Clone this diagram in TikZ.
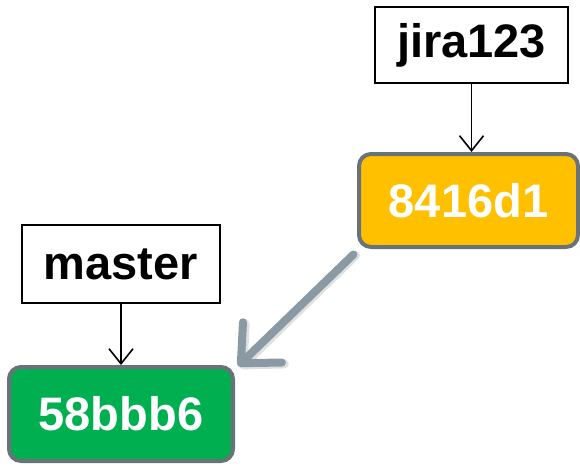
\documentclass[tikz,border=0pt]{standalone}
\usepackage{fontspec}
\setmainfont{Liberation Sans}
\usetikzlibrary{arrows.meta}
\definecolor{commitedge}{HTML}{687278}
\definecolor{gold}{HTML}{FFC000}
\definecolor{leaf}{HTML}{00B050}
\definecolor{parentline}{HTML}{8A9AA5}
\tikzset{
  lbl/.style={draw=black, line width=1.8pt, fill=white, inner sep=0pt,
    font=\fontsize{47}{54}\selectfont\bfseries},
  commit/.style={draw=commitedge, line width=4pt, rounded corners=12pt,
    inner sep=0pt, text=white, font=\fontsize{47}{54}\selectfont\bfseries},
  ptr/.style={line width=1.6pt, -{Straight Barb[length=15pt,width=24pt,line width=1.6pt]}},
  parent/.style={draw=parentline, line width=8pt, line cap=round,
    -{Straight Barb[length=30pt,width=56pt,line width=8pt,round]}}
}
\begin{document}
\begin{tikzpicture}[x=1pt,y=-1pt]
  \useasboundingbox (0,0) rectangle (580,466);
  % branch labels
  \node[lbl, minimum width=193pt, minimum height=76pt] (jira) at (471.5,45) {jira123};
  \node[lbl, minimum width=198pt, minimum height=78pt] (master) at (121,264) {master};
  % commits
  \node[commit, fill=gold, minimum width=219pt, minimum height=93pt] (c1) at (468.5,200.5) {8416d1};
  \node[commit, fill=leaf, minimum width=224pt, minimum height=94pt] (c0) at (121,414) {58bbb6};
  % branch pointers
  \draw[ptr] (jira.south) -- (jira.south |- c1.north);
  \draw[ptr] (master.south) -- (master.south |- c0.north);
  % parent link with a soft shadow
  \draw[draw=black!12, line width=9pt, line cap=round,
    -{Straight Barb[length=30pt,width=56pt,line width=9pt,round]},
    shorten <=5pt]
    ([xshift=2pt,yshift=-3pt]c1.south west) -- ([xshift=5pt,yshift=-3pt]c0.north east);
  \draw[parent, shorten <=5pt] ([xshift=0pt,yshift=-2pt]c1.south west) -- ([xshift=3pt,yshift=-1pt]c0.north east);
\end{tikzpicture}
\end{document}
